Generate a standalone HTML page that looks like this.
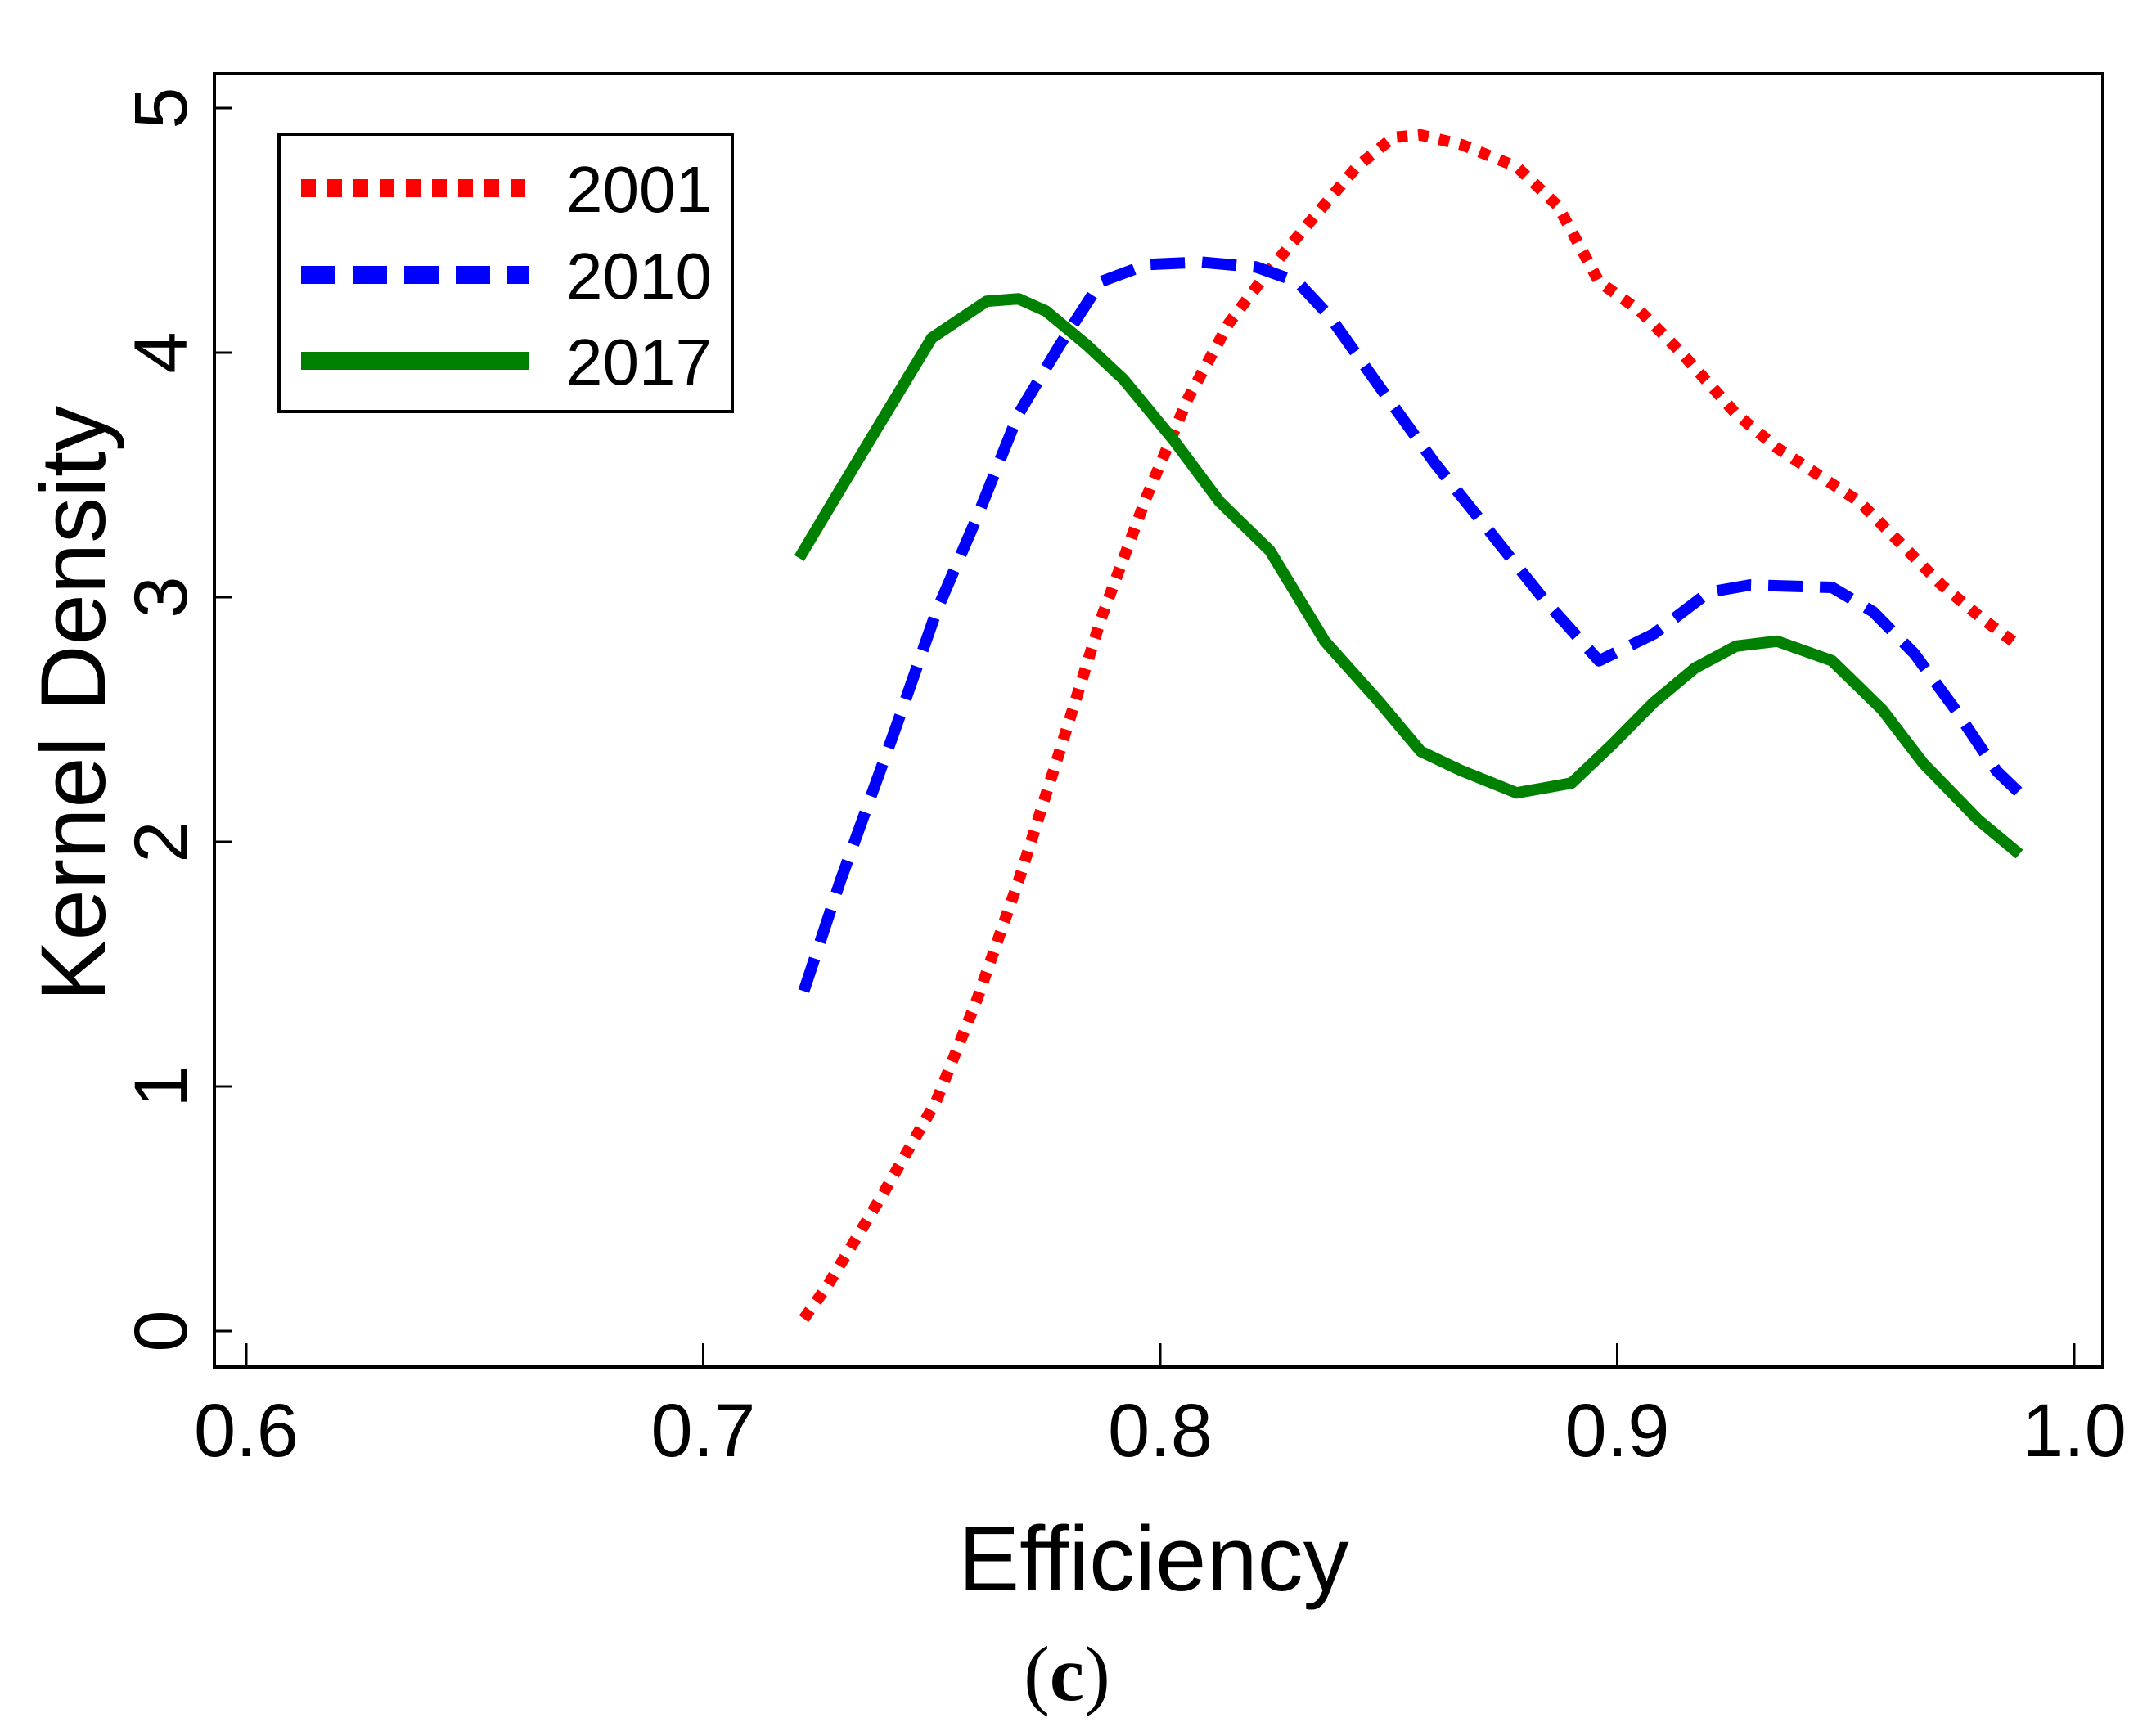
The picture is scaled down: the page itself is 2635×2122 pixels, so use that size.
<!DOCTYPE html>
<html><head><meta charset="utf-8"><style>
html,body{margin:0;padding:0;background:#fff}
svg{display:block}
text{font-family:"Liberation Sans",Arial,sans-serif;fill:#000}
</style></head><body>
<svg id="chart" width="2635" height="2122" viewBox="0 0 2635 2122">
<rect x="262" y="90" width="2308" height="1581" fill="none" stroke="#000" stroke-width="4"/>
<g id="xaxis"></g>
<g id="yaxis"></g>
<g id="series"></g>
<text x="1410" y="1944" font-size="112" text-anchor="middle">Efficiency</text>
<text transform="translate(128,860) rotate(-90)" font-size="112" text-anchor="middle">Kernel Density</text>
<text x="1304" y="2078" font-size="95" text-anchor="middle" style="font-family:'Liberation Serif',serif">(<tspan font-weight="bold">c</tspan>)</text>
<g>
<rect x="341" y="164" width="554" height="339" fill="#fff" stroke="#000" stroke-width="4"/>
<line x1="368" y1="230" x2="643" y2="230" stroke="#ff0000" stroke-width="22" stroke-dasharray="18 14"/>
<text x="692" y="259" font-size="80">2001</text>
<line x1="368" y1="336" x2="646" y2="336" stroke="#0000ff" stroke-width="22" stroke-dasharray="42 21"/>
<text x="692" y="365" font-size="80">2010</text>
<line x1="368" y1="441" x2="646" y2="441" stroke="#008000" stroke-width="22"/>
<text x="692" y="470" font-size="80">2017</text>
</g>
</svg>
<script>
const xTicks=[0.6,0.7,0.8,0.9,1.0];
const xTickLabels=["0.6","0.7","0.8","0.9","1.0"];
const yTicks=[0,1,2,3,4,5];
const yTickLabels=["0","1","2","3","4","5"];
const x2001=[0.722,0.727,0.739,0.751,0.76,0.769,0.778,0.787,0.797,0.806,0.815,0.824,0.833,0.843,0.851,0.857,0.866,0.878,0.887,0.896,0.905,0.914,0.926,0.935,0.944,0.953,0.962,0.971,0.98,0.988];
const y2001=[0.05,0.18,0.55,0.94,1.36,1.84,2.37,2.91,3.41,3.81,4.12,4.34,4.54,4.76,4.88,4.89,4.85,4.76,4.6,4.29,4.17,4.0,3.75,3.61,3.5,3.39,3.22,3.05,2.91,2.8];
const x2010=[0.722,0.73,0.742,0.751,0.76,0.769,0.778,0.787,0.797,0.809,0.821,0.83,0.837,0.848,0.86,0.872,0.884,0.896,0.908,0.92,0.929,0.947,0.956,0.965,0.974,0.983,0.988];
const y2010=[1.39,1.84,2.46,2.94,3.33,3.75,4.03,4.29,4.36,4.37,4.35,4.29,4.15,3.86,3.55,3.27,2.99,2.74,2.85,3.02,3.05,3.04,2.94,2.77,2.54,2.29,2.2];
const x2017=[0.721,0.729,0.739,0.75,0.762,0.769,0.775,0.784,0.792,0.803,0.813,0.824,0.836,0.848,0.857,0.866,0.878,0.89,0.899,0.908,0.917,0.926,0.935,0.947,0.958,0.967,0.979,0.988];
const y2017=[3.16,3.41,3.72,4.06,4.21,4.22,4.17,4.03,3.89,3.64,3.39,3.19,2.82,2.57,2.37,2.29,2.2,2.24,2.4,2.57,2.71,2.8,2.82,2.74,2.54,2.32,2.09,1.95];
const NS="http://www.w3.org/2000/svg";
function sx(v){return 301+(v-0.6)*5585;}
function sy(v){return 1627-v*299;}
function mk(t,a){const e=document.createElementNS(NS,t);for(const k in a)e.setAttribute(k,a[k]);return e;}
const xg=document.getElementById('xaxis'),yg=document.getElementById('yaxis'),sg=document.getElementById('series');
xTicks.forEach((v,i)=>{
 const t=mk('line',{x1:sx(v),x2:sx(v),y1:1671,y2:1642,stroke:'#000','stroke-width':3});
 
 
 xg.appendChild(t);
 const l=mk('text',{x:sx(v),y:1780,'font-size':92,'text-anchor':'middle'});
 l.textContent=xTickLabels[i];
 
 
 xg.appendChild(l);
});
yTicks.forEach((v,i)=>{
 const t=mk('line',{x1:262,x2:284,y1:sy(v),y2:sy(v),stroke:'#000','stroke-width':3});
 
 
 yg.appendChild(t);
 const l=mk('text',{transform:'translate(228,'+sy(v)+') rotate(-90)','font-size':92,'text-anchor':'middle'});
 l.textContent=yTickLabels[i];
 
 
 yg.appendChild(l);
});
function draw(xs,ys,color,dash,name){
 const d=xs.map((x,i)=>(i?'L':'M')+sx(x).toFixed(1)+' '+sy(ys[i]).toFixed(1)).join(' ');
 const p=mk('path',{d:d,fill:'none',stroke:color,'stroke-width':14,'stroke-linejoin':'round'});
 if(dash)p.setAttribute('stroke-dasharray',dash);
 
 
 sg.appendChild(p);
}
draw(x2001,y2001,'#ff0000','13 13','line-2001');
draw(x2010,y2010,'#0000ff','42 21','line-2010');
draw(x2017,y2017,'#008000',null,'line-2017');
</script>
</body></html>
